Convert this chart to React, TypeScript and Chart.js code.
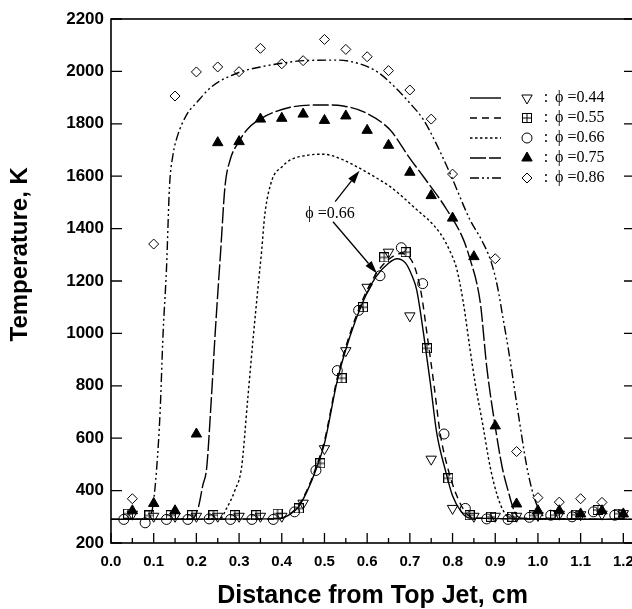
import React, { useEffect, useRef } from 'react';
import { Chart, registerables } from 'chart.js';
import { drawPoint } from 'chart.js/helpers';

Chart.register(...registerables);

const SANS = '"Liberation Sans", Arial, Helvetica, sans-serif';
const SERIF = '"Liberation Serif", "Times New Roman", Times, serif';

// ---------- legend labels ----------
const phiLabels = ['\u03D5 =0.44', '\u03D5 =0.55', '\u03D5 =0.66', '\u03D5 =0.75', '\u03D5 =0.86'];

// ---------- model curves ----------
const c044X = [0, 0.39, 0.42, 0.44, 0.46, 0.48, 0.5, 0.53, 0.56, 0.59, 0.62, 0.65, 0.67, 0.69, 0.705, 0.716, 0.732, 0.748, 0.763, 0.783, 0.8, 0.82, 0.84, 1.225];
const c044Y = [290, 292, 310, 340, 400, 480, 580, 820, 990, 1120, 1215, 1268, 1285, 1268, 1220, 1166, 1000, 810, 619, 479, 380, 320, 295, 290];

const c055X = [0, 0.39, 0.42, 0.44, 0.46, 0.48, 0.5, 0.53, 0.56, 0.59, 0.62, 0.65, 0.68, 0.7, 0.715, 0.728, 0.74, 0.756, 0.771, 0.79, 0.81, 0.83, 0.85, 1.225];
const c055Y = [290, 292, 312, 345, 405, 488, 590, 830, 1000, 1130, 1225, 1282, 1305, 1288, 1235, 1140, 1000, 810, 619, 479, 380, 318, 295, 290];

const c066X = [0, 0.255, 0.27, 0.29, 0.306, 0.32, 0.334, 0.344, 0.353, 0.36, 0.377, 0.4, 0.42, 0.46, 0.498, 0.54, 0.576, 0.62, 0.654, 0.708, 0.771, 0.795, 0.81, 0.825, 0.84, 0.853, 0.871, 0.888, 0.905, 0.92, 0.935, 1.225];
const c066Y = [290, 292, 330, 400, 491, 745, 1000, 1170, 1318, 1450, 1585, 1635, 1662, 1680, 1684, 1665, 1636, 1595, 1560, 1484, 1382, 1310, 1245, 1120, 950, 810, 650, 491, 380, 320, 295, 290];

const c075X = [0, 0.19, 0.205, 0.215, 0.224, 0.235, 0.244, 0.257, 0.267, 0.279, 0.298, 0.32, 0.349, 0.42, 0.498, 0.544, 0.599, 0.654, 0.7, 0.732, 0.787, 0.826, 0.845, 0.857, 0.866, 0.88, 0.9, 0.916, 0.93, 0.945, 0.96, 1.225];
const c075Y = [290, 292, 339, 420, 485, 750, 1000, 1318, 1560, 1662, 1728, 1780, 1818, 1863, 1872, 1868, 1840, 1776, 1668, 1598, 1471, 1356, 1262, 1190, 1105, 873, 644, 491, 400, 320, 295, 290];

const c086X = [0, 0.088, 0.098, 0.107, 0.115, 0.122, 0.13, 0.137, 0.145, 0.155, 0.177, 0.2, 0.236, 0.298, 0.35, 0.4, 0.45, 0.53, 0.58, 0.623, 0.66, 0.7, 0.732, 0.76, 0.794, 0.841, 0.87, 0.89, 0.905, 0.918, 0.931, 0.955, 0.974, 0.99, 1.005, 1.02, 1.225];
const c086Y = [290, 292, 340, 485, 700, 1000, 1248, 1560, 1680, 1750, 1834, 1880, 1942, 1995, 2017, 2031, 2041, 2043, 2030, 1999, 1948, 1879, 1815, 1730, 1611, 1433, 1350, 1275, 1180, 1060, 937, 682, 491, 380, 320, 295, 290];

// ---------- experimental points ----------
const m044X = [0.05, 0.1, 0.15, 0.2, 0.25, 0.3, 0.35, 0.4, 0.45, 0.5, 0.55, 0.6, 0.65, 0.7, 0.75, 0.8, 0.85, 0.9, 0.95, 1.0, 1.05, 1.1, 1.15, 1.2];
const m044Y = [310, 302, 302, 302, 302, 302, 302, 302, 352, 560, 934, 1176, 1310, 1067, 520, 332, 302, 302, 302, 305, 310, 308, 310, 312];

const m055X = [0.04, 0.09, 0.14, 0.19, 0.24, 0.29, 0.34, 0.39, 0.44, 0.49, 0.54, 0.59, 0.64, 0.69, 0.74, 0.79, 0.84, 0.89, 0.94, 0.99, 1.04, 1.09, 1.14, 1.19];
const m055Y = [312, 305, 306, 306, 306, 306, 306, 312, 332, 504, 829, 1100, 1290, 1310, 943, 447, 306, 300, 300, 305, 306, 308, 326, 312];

const m066X = [0.03, 0.08, 0.13, 0.18, 0.23, 0.28, 0.33, 0.38, 0.43, 0.48, 0.53, 0.58, 0.63, 0.68, 0.73, 0.78, 0.83, 0.88, 0.93, 0.98, 1.03, 1.08, 1.13, 1.18];
const m066Y = [290, 277, 290, 290, 292, 290, 290, 290, 319, 477, 858, 1088, 1220, 1327, 1190, 616, 332, 292, 290, 298, 306, 300, 319, 306];

const m075X = [0.05, 0.1, 0.15, 0.2, 0.25, 0.3, 0.35, 0.4, 0.45, 0.5, 0.55, 0.6, 0.65, 0.7, 0.75, 0.8, 0.85, 0.9, 0.95, 1.0, 1.05, 1.1, 1.15, 1.2];
const m075Y = [323, 351, 323, 616, 1728, 1732, 1818, 1821, 1837, 1813, 1830, 1775, 1718, 1615, 1526, 1440, 1293, 647, 349, 323, 323, 311, 323, 311];

const m086X = [0.05, 0.1, 0.15, 0.2, 0.25, 0.3, 0.35, 0.4, 0.45, 0.5, 0.55, 0.6, 0.65, 0.7, 0.75, 0.8, 0.9, 0.95, 1.0, 1.05, 1.1, 1.15];
const m086Y = [369, 1341, 1906, 1998, 2017, 1999, 2088, 2029, 2041, 2122, 2084, 2056, 2003, 1929, 1818, 1608, 1285, 549, 373, 356, 369, 355];

// ---------- annotation (data coordinates) ----------
const annText = '\u03D5 =0.66';
const annTextAt = [0.455, 1440];
const annArrowUp = [0.525, 1503, 0.582, 1621];
const annArrowDown = [0.52, 1426, 0.623, 1229];

const zip = (xs: number[], ys: number[]) => xs.map((x, i) => ({ x, y: ys[i] }));

export default function App() {
  const ref = useRef<HTMLCanvasElement>(null);

  useEffect(() => {
    const canvas = ref.current!;
    // boxed-cross marker
    const boxCross = document.createElement('canvas');
    boxCross.width = 10;
    boxCross.height = 10;
    const bc = boxCross.getContext('2d')!;
    bc.strokeStyle = '#000';
    bc.lineWidth = 1;
    bc.strokeRect(0.5, 0.5, 9, 9);
    bc.beginPath();
    bc.moveTo(5, 0.5); bc.lineTo(5, 9.5);
    bc.moveTo(0.5, 5); bc.lineTo(9.5, 5);
    bc.stroke();

    const markerStyles: any[] = [
      { style: 'triangle', rotation: 180, radius: 6, fill: 'rgba(0,0,0,0)' },
      { style: boxCross, rotation: 0, radius: 5, fill: 'rgba(0,0,0,0)' },
      { style: 'circle', rotation: 0, radius: 5, fill: 'rgba(0,0,0,0)' },
      { style: 'triangle', rotation: 0, radius: 6, fill: '#000' },
      { style: 'rectRot', rotation: 0, radius: 5, fill: 'rgba(0,0,0,0)' },
    ];
    const dashes = [[], [7, 5], [2.5, 2.5], [16, 3], [9, 3, 2, 3, 2, 3]];
    const markerData = [zip(m044X, m044Y), zip(m055X, m055Y), zip(m066X, m066Y), zip(m075X, m075Y), zip(m086X, m086Y)];
    const curveData = [zip(c044X, c044Y), zip(c055X, c055Y), zip(c066X, c066Y), zip(c075X, c075Y), zip(c086X, c086Y)];

    const datasets: any[] = [];
    markerData.forEach((d, i) => {
      const m = markerStyles[i];
      datasets.push({
        label: phiLabels[i] + ' exp',
        data: d,
        showLine: false,
        pointStyle: m.style,
        pointRotation: m.rotation,
        pointRadius: m.radius,
        pointBackgroundColor: m.fill,
        pointBorderColor: '#000',
        pointBorderWidth: 1,
      });
    });
    curveData.forEach((d, i) => {
      datasets.push({
        label: phiLabels[i],
        data: d,
        showLine: true,
        borderColor: '#000',
        borderWidth: 1.4,
        borderDash: dashes[i],
        pointRadius: 0,
        cubicInterpolationMode: 'monotone',
        fill: false,
      });
    });

    const framePlugin = {
      id: 'frameTicks',
      afterDatasetsDraw(chart: any) {
        const { ctx, chartArea: a, scales } = chart;
        const xs = scales.x, ys = scales.y;
        ctx.save();
        ctx.setLineDash([]);
        ctx.strokeStyle = '#000';
        ctx.lineWidth = 1.6;
        ctx.strokeRect(a.left, a.top, a.right - a.left, a.bottom - a.top);
        ctx.lineWidth = 1.3;
        ctx.beginPath();
        const xt = xs.ticks.map((t: any) => t.value);
        xt.forEach((v: number, i: number) => {
          const px = xs.getPixelForValue(v);
          ctx.moveTo(px, a.bottom); ctx.lineTo(px, a.bottom - 10);
          if (i < xt.length - 1) {
            const m = xs.getPixelForValue((v + xt[i + 1]) / 2);
            ctx.moveTo(m, a.bottom); ctx.lineTo(m, a.bottom - 5);
          }
        });
        ys.ticks.forEach((t: any) => {
          const py = ys.getPixelForValue(t.value);
          ctx.moveTo(a.left, py); ctx.lineTo(a.left + 11, py);
          ctx.moveTo(a.right, py); ctx.lineTo(a.right - 10, py);
        });
        ctx.stroke();
        ctx.restore();
      },
    };

    const arrow = (ctx: CanvasRenderingContext2D, x1: number, y1: number, x2: number, y2: number) => {
      const ang = Math.atan2(y2 - y1, x2 - x1);
      const hl = 13, hw = 4;
      const bx = x2 - hl * Math.cos(ang), by = y2 - hl * Math.sin(ang);
      ctx.beginPath(); ctx.moveTo(x1, y1); ctx.lineTo(bx, by); ctx.stroke();
      ctx.beginPath();
      ctx.moveTo(x2, y2);
      ctx.lineTo(bx + hw * Math.sin(ang), by - hw * Math.cos(ang));
      ctx.lineTo(bx - hw * Math.sin(ang), by + hw * Math.cos(ang));
      ctx.closePath(); ctx.fill();
    };

    const overlayPlugin = {
      id: 'legendAndNote',
      afterDraw(chart: any) {
        const { ctx, chartArea: a, scales } = chart;
        const xs = scales.x, ys = scales.y;
        ctx.save();
        // legend
        phiLabels.forEach((lab, i) => {
          const y = a.top + 79 + i * 20;
          ctx.strokeStyle = '#000';
          ctx.lineWidth = 1.4;
          ctx.setLineDash(dashes[i]);
          ctx.beginPath(); ctx.moveTo(a.left + 359, y); ctx.lineTo(a.left + 390, y); ctx.stroke();
          ctx.setLineDash([]);
          const m = markerStyles[i];
          ctx.lineWidth = 1;
          ctx.fillStyle = m.fill;
          ctx.strokeStyle = '#000';
          drawPoint(ctx, { pointStyle: m.style, radius: m.radius, rotation: m.rotation, borderWidth: 1 } as any, a.left + 416, y);
          ctx.fillStyle = '#000';
          ctx.font = `16px ${SERIF}`;
          ctx.textBaseline = 'middle';
          ctx.textAlign = 'center';
          ctx.fillText(':', a.left + 435, y);
          ctx.textAlign = 'left';
          ctx.fillText(lab, a.left + 444, y);
        });
        // annotation
        ctx.fillStyle = '#000';
        ctx.strokeStyle = '#000';
        ctx.lineWidth = 1.3;
        ctx.font = `16px ${SERIF}`;
        ctx.textAlign = 'left';
        ctx.textBaseline = 'alphabetic';
        ctx.fillText(annText, xs.getPixelForValue(annTextAt[0]), ys.getPixelForValue(annTextAt[1]));
        arrow(ctx, xs.getPixelForValue(annArrowUp[0]), ys.getPixelForValue(annArrowUp[1]), xs.getPixelForValue(annArrowUp[2]), ys.getPixelForValue(annArrowUp[3]));
        arrow(ctx, xs.getPixelForValue(annArrowDown[0]), ys.getPixelForValue(annArrowDown[1]), xs.getPixelForValue(annArrowDown[2]), ys.getPixelForValue(annArrowDown[3]));
        ctx.restore();
      },
    };

    const chart = new Chart(canvas, {
      type: 'scatter',
      data: { datasets },
      options: {
        responsive: false,
        animation: false,
        devicePixelRatio: 1,
        layout: { padding: { left: 0, top: 19, right: 11, bottom: 0 } },
        plugins: { legend: { display: false }, tooltip: { enabled: false } },
        scales: {
          x: {
            type: 'linear',
            min: 0,
            max: 1.225,
            grid: { display: false, drawTicks: false },
            border: { display: false },
            ticks: {
              stepSize: 0.1,
              includeBounds: false,
              autoSkip: false,
              maxRotation: 0,
              padding: 11,
              color: '#000',
              font: { family: SANS, size: 15, weight: 'bold', lineHeight: 1 },
              callback: (v: any) => Number(v).toFixed(1),
            },
            title: {
              display: true,
              text: 'Distance from Top Jet, cm',
              color: '#000',
              font: { family: SANS, size: 25, weight: 'bold', lineHeight: 1 },
              padding: { top: 0, bottom: 0 },
            },
            afterFit: (s: any) => { s.height = 66; },
          },
          y: {
            type: 'linear',
            min: 200,
            max: 2200,
            grid: { display: false, drawTicks: false },
            border: { display: false },
            ticks: {
              stepSize: 200,
              padding: 7,
              color: '#000',
              font: { family: SANS, size: 17, weight: 'bold', lineHeight: 1 },
              callback: (v: any) => String(v),
            },
            title: {
              display: true,
              text: '        Temperature, K',
              color: '#000',
              font: { family: SANS, size: 24, weight: 'bold', lineHeight: 1 },
              padding: { top: 8, bottom: 0 },
            },
            afterFit: (s: any) => { s.width = 111; },
          },
        },
      } as any,
      plugins: [framePlugin, overlayPlugin],
    });
    return () => chart.destroy();
  }, []);

  return (
    <div style={{ position: 'absolute', left: 0, top: 0, width: 632, height: 609, overflow: 'hidden', background: '#fff' }}>
      <canvas ref={ref} width={645} height={609} style={{ display: 'block' }} />
    </div>
  );
}
